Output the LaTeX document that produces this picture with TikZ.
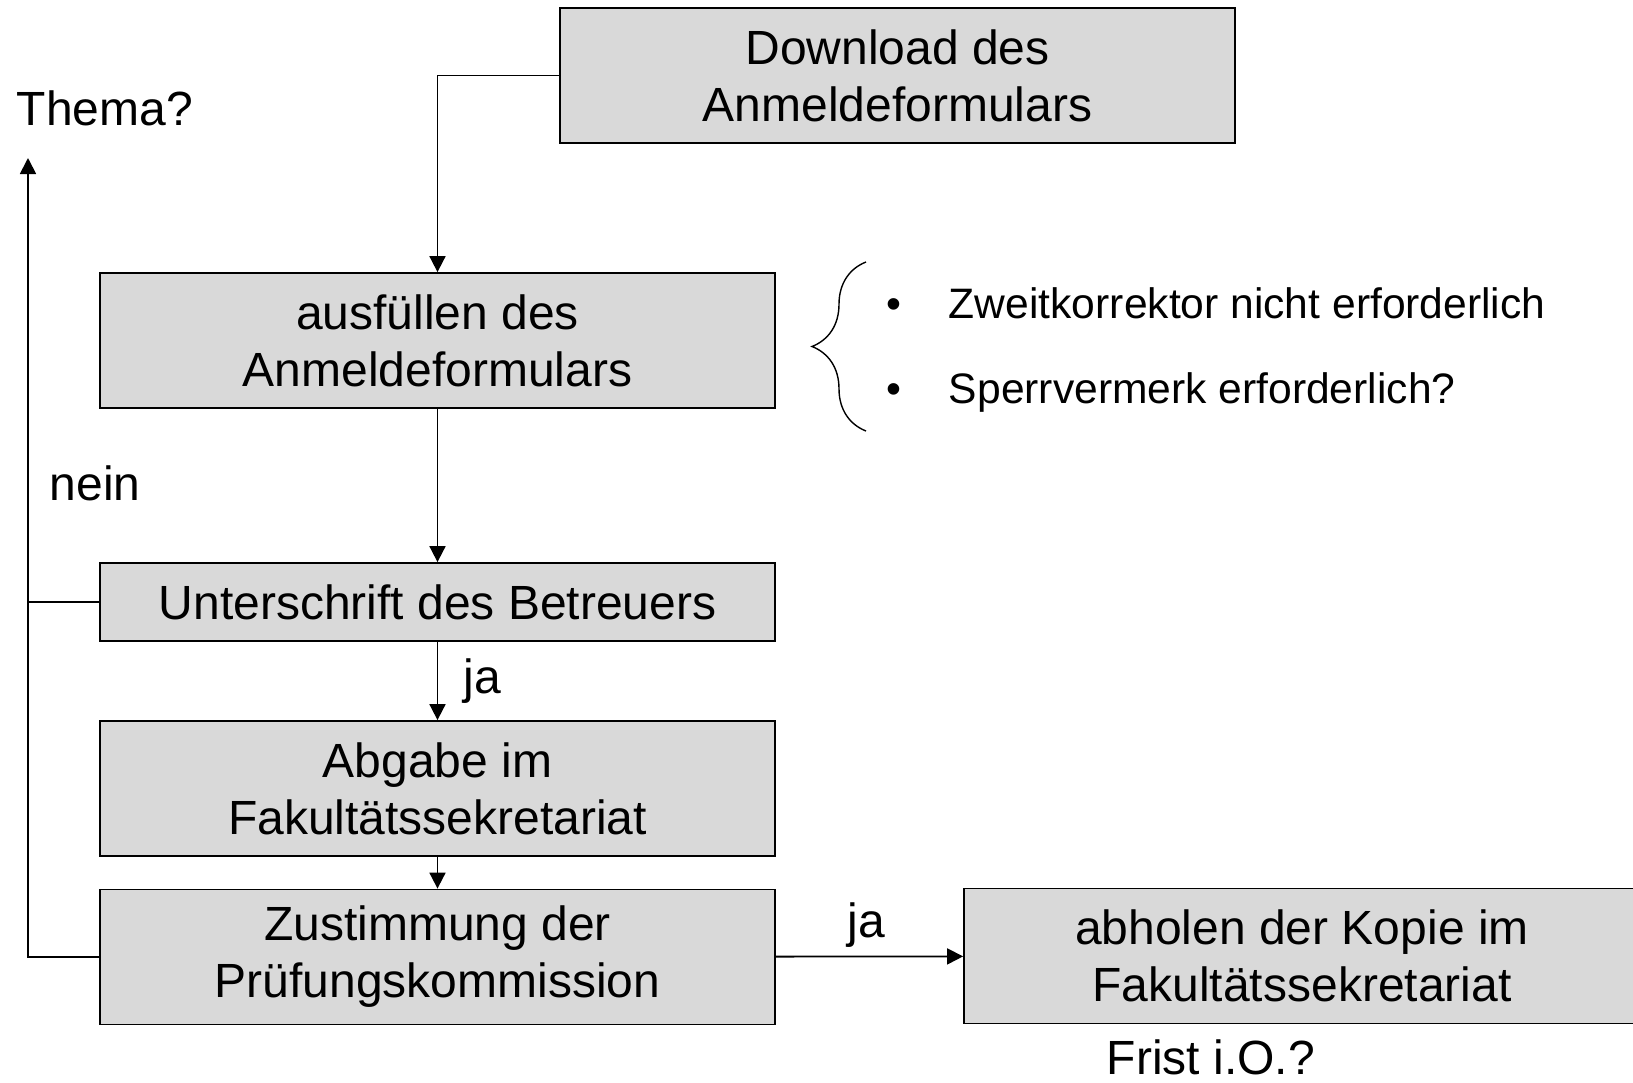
\documentclass[tikz,border=0pt]{standalone}
\usepackage{fontspec}
\setmainfont{Liberation Sans}
\usetikzlibrary{arrows.meta,positioning,decorations.pathreplacing}
\definecolor{boxgray}{RGB}{217,217,217}

\begin{document}
\begin{tikzpicture}[x=0.5pt,y=-0.5pt,>={Triangle[length=8pt,width=8pt]},line width=0.9pt,
  box/.style={draw,fill=boxgray,minimum width=337.5pt,minimum height=67.5pt,inner sep=0pt,align=center,font=\fontsize{24}{28.5}\selectfont},
  lbl/.style={inner sep=0pt,font=\fontsize{24}{28.5}\selectfont},
  note/.style={inner sep=0pt,font=\fontsize{21.3}{25}\selectfont}]
  \clip (0,0) rectangle (1633,1082);
  % boxes
  \node[box] (download) at (897.5,75.5) {Download des\\Anmeldeformulars};
  \node[box] (ausfuellen) at (437.5,340.5) {ausfüllen des\\Anmeldeformulars};
  \node[box,minimum height=39pt] (unterschrift) at (437.5,602) {Unterschrift des Betreuers};
  \node[box] (abgabe) at (437.5,788.5) {Abgabe im\\Fakultätssekretariat};
  \node[box] (zustimmung) at (437.5,957) {Zustimmung der\\Prüfungskommission};
  \node[box,minimum width=338pt] (abholen) at (1302,956) {abholen der Kopie im\\Fakultätssekretariat};
  % labels
  \node[lbl,anchor=base west] (thema) at (16,125) {Thema?};
  \node[lbl,anchor=base west] (nein) at (49,500) {nein};
  \node[lbl,anchor=base west] (ja1) at (463,693) {ja};
  \node[lbl,anchor=base west] (ja2) at (847,937) {ja};
  \node[lbl,anchor=base west] (frist) at (1106,1074) {Frist i.O.?};
  \coordinate (back) at (28,158);
  % notes
  \draw[decorate,decoration={brace,amplitude=27pt},line width=0.7pt] (866,431) -- (866,262);
  \node[note,anchor=base] at (894,318) {\textbullet};
  \node[note,anchor=base west] (zweit) at (948,318) {Zweitkorrektor nicht erforderlich};
  \node[note,anchor=base] at (894,403) {\textbullet};
  \node[note,anchor=base west] (sperr) at (948,403) {Sperrvermerk erforderlich?};
  % connectors
  \draw[->] (download.west) -| (ausfuellen.north);
  \draw[->] (ausfuellen) -- (unterschrift);
  \draw[->] (unterschrift) -- (abgabe);
  \draw[->] (abgabe) -- (zustimmung);
  \draw[->] (zustimmung) -- (abholen);
  \draw[->] (zustimmung.west) -| (back);
  \draw (unterschrift.west) -- (unterschrift.west -| back);
\end{tikzpicture}
\end{document}
